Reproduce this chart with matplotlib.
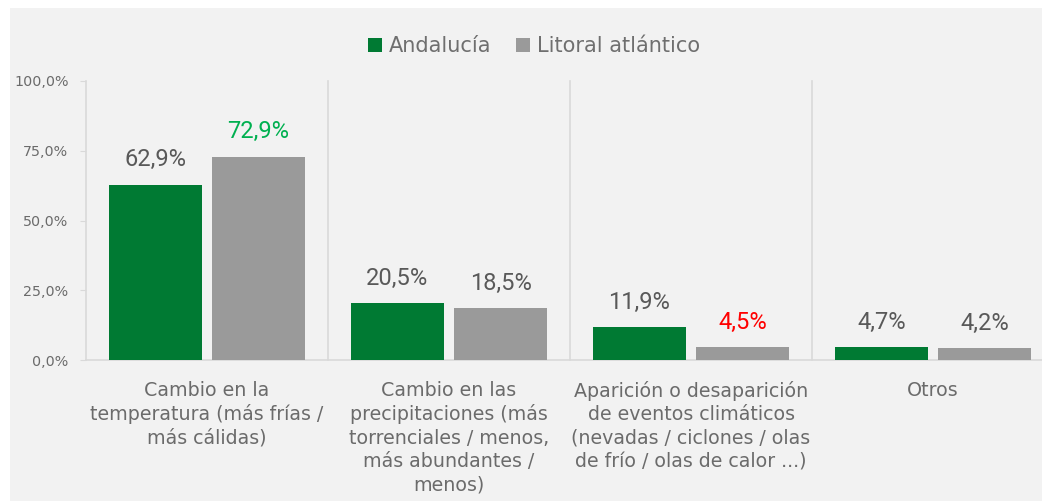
import numpy as np
import matplotlib.pyplot as plt
from matplotlib.patches import Rectangle
from matplotlib.ticker import FuncFormatter

# data
categories = [
    "Cambio en la\ntemperatura (más frías /\nmás cálidas)",
    "Cambio en las\nprecipitaciones (más\ntorrenciales / menos,\nmás abundantes /\nmenos)",
    "Aparición o desaparición\nde eventos climáticos\n(nevadas / ciclones / olas\nde frío / olas de calor ...)",
    "Otros",
]
andalucia = [62.9, 20.5, 11.9, 4.7]
litoral = [72.9, 18.5, 4.5, 4.2]
litoral_label_colors = ["#00B050", "#595959", "#FF0000", "#595959"]

plt.rcParams['font.family'] = ['DejaVu Sans']
label_font = ['Roboto', 'DejaVu Sans']

W, H = 1042, 501
fig = plt.figure(figsize=(W / 100, H / 100), dpi=100, facecolor='white')
fig.patches.append(Rectangle((10 / W, 0), 1, (H - 8) / H, transform=fig.transFigure,
                             facecolor='#F2F2F2', edgecolor='none', zorder=-5))

ax = fig.add_axes([86 / W, (H - 360) / H, (1054 - 86) / W, (360 - 81) / H])
ax.set_facecolor('none')

x = np.arange(len(categories))
bw = 0.385
off = 0.213
green = '#007A33'
gray = '#9A9A9A'
b1 = ax.bar(x - off, andalucia, bw, color=green, label='Andalucía', zorder=3)
b2 = ax.bar(x + off, litoral, bw, color=gray, label='Litoral atlántico', zorder=3)

fmt = lambda v: f"{v:.1f}%".replace('.', ',')
for xi, v in zip(x, andalucia):
    ax.annotate(fmt(v), (xi - off, v), xytext=(0, 9.5), textcoords='offset points',
                ha='center', va='bottom', fontsize=17, family=label_font,
                color='#595959', clip_on=False)
for xi, v, c in zip(x, litoral, litoral_label_colors):
    ax.annotate(fmt(v), (xi + off, v), xytext=(0, 9.5), textcoords='offset points',
                ha='center', va='bottom', fontsize=17, family=label_font,
                color=c, clip_on=False)

# separators between categories
for s in x[:-1] + 0.5:
    ax.plot([s, s], [0, 100], color='#D9D9D9', lw=1.2, zorder=1, clip_on=False)

ax.set_xlim(-0.5, len(categories) - 0.5)
ax.set_ylim(0, 100)
ax.set_yticks([0, 25, 50, 75, 100])
ax.yaxis.set_major_formatter(FuncFormatter(lambda v, p: f"{v:.1f}%".replace('.', ',')))
ax.set_xticks(x)
ax.set_xticklabels(categories, fontsize=13.7, color='#6B6B6B', linespacing=1.3, va='top')
ax.tick_params(axis='x', length=0, pad=14.8)
ax.tick_params(axis='y', length=4.3, color='#D9D9D9', labelsize=10.3, labelcolor='#6B6B6B', pad=8.3)

for side in ['top', 'right']:
    ax.spines[side].set_visible(False)
for side in ['left', 'bottom']:
    ax.spines[side].set_color('#D9D9D9')
    ax.spines[side].set_linewidth(1.2)

fig.legend(handles=[b1, b2], loc='center', bbox_to_anchor=(534 / W, (H - 46) / H), ncol=2,
           frameon=False, fontsize=15, labelcolor='#6F6F6F', handlelength=0.68, handleheight=0.68,
           handletextpad=0.3, columnspacing=1.2)

fig.savefig('out.png', dpi=100, facecolor='white')
